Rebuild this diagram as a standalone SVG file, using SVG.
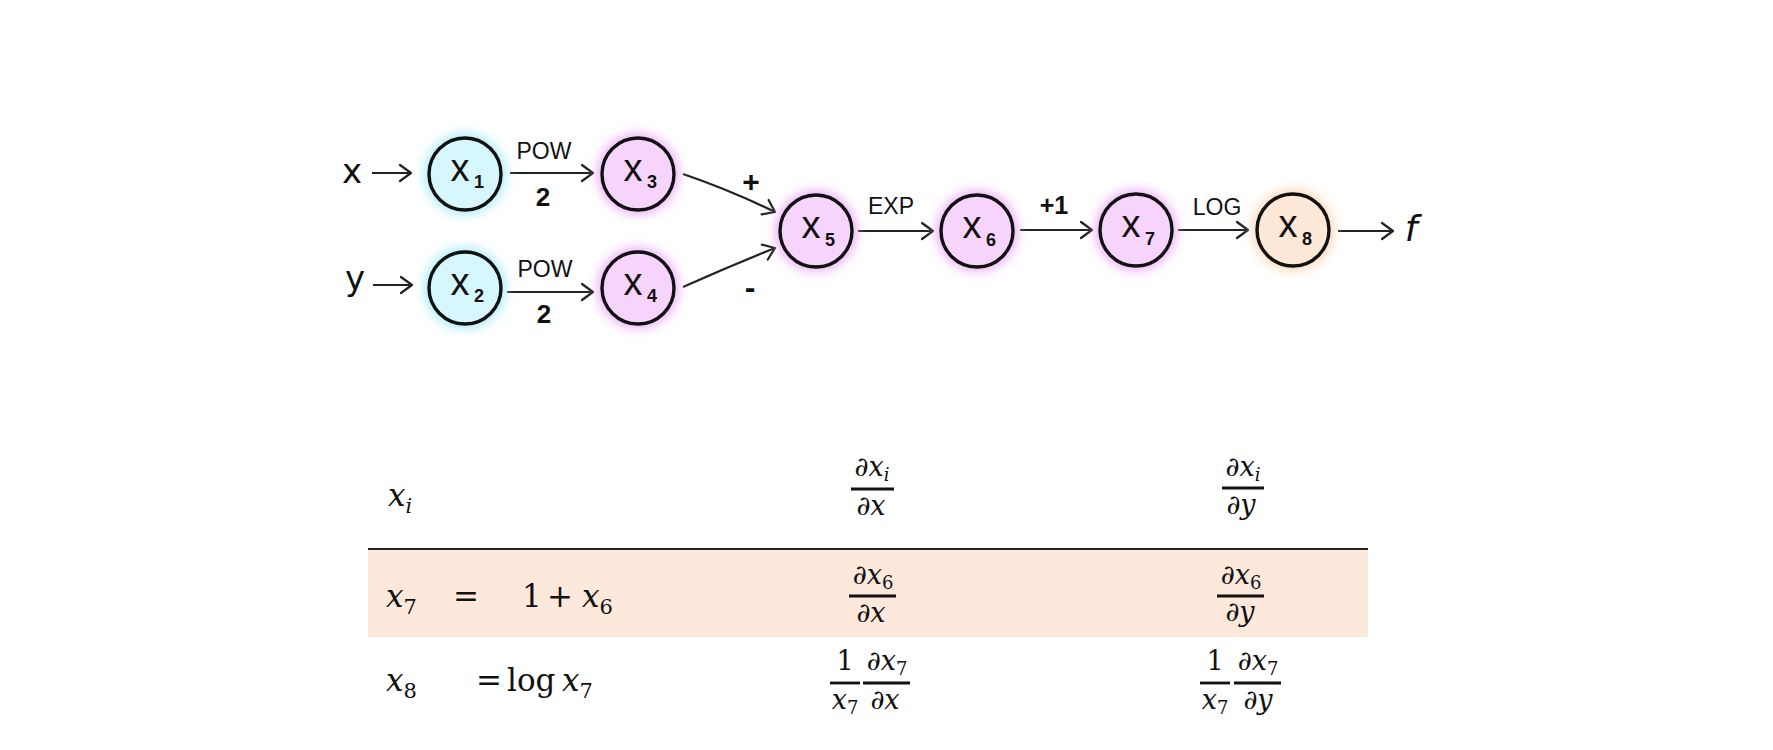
<svg xmlns="http://www.w3.org/2000/svg" width="1773" height="750" viewBox="0 0 1773 750">
<defs>
<style>
.node{stroke:#111;stroke-width:3.4}
.cyan{fill:#d5f7fd}
.pink{fill:#f6d4fb}
.peach{fill:#fde7d6}
.gcyan{fill:#9fe9f7}
.gpink{fill:#eaa6f6}
.gpeach{fill:#fbd1ae}
.nx{font-family:"Liberation Sans",sans-serif;font-size:38px;fill:#111;text-anchor:middle}
.ns{font-family:"Liberation Sans",sans-serif;font-size:18px;font-weight:bold;fill:#111;text-anchor:middle}
.lbl{font-family:"Liberation Sans",sans-serif;font-size:23px;fill:#111;text-anchor:middle}
.io{font-family:"DejaVu Sans",sans-serif;font-size:34px;fill:#111;text-anchor:middle}
.edge{fill:none;stroke:#222;stroke-width:2.2;marker-end:url(#arr)}
.m{font-family:"DejaVu Serif",serif;fill:#111}
.mi{font-style:italic}
.big{font-size:31px}
.sub{font-size:21px}
.fr{font-size:27px;text-anchor:middle}
.frs{font-size:18px}
.bar{stroke:#111;stroke-width:2.8}
</style>
<filter id="glow" x="-50%" y="-50%" width="200%" height="200%"><feGaussianBlur stdDeviation="6"/></filter>
<marker id="arr" markerUnits="userSpaceOnUse" markerWidth="20" markerHeight="20" viewBox="-14 -10 16 20" refX="0" refY="0" orient="auto">
<path d="M-11,-8 L0,0 L-11,8" fill="none" stroke="#222" stroke-width="2.2" stroke-linecap="round" stroke-linejoin="round"/>
</marker>
</defs>
<rect width="1773" height="750" fill="#fff"/>

<g id="connectors">
<path class="edge" d="M372,173 L411,173"/>
<path class="edge" d="M373,285 L412,285"/>
<path class="edge" d="M510,173 L593,173"/>
<path class="edge" d="M507,292 L593,292"/>
<path class="edge" d="M683,174 Q730,190 775,212"/>
<path class="edge" d="M683,287 Q730,266 775,248"/>
<path class="edge" d="M858,231 L933,231"/>
<path class="edge" d="M1020,230 L1092,230"/>
<path class="edge" d="M1178,230 L1248,230"/>
<path class="edge" d="M1338,231 L1393,231"/>
</g>

<g id="edge-labels">
<text class="lbl" x="544" y="159">POW</text>
<text class="lbl" x="543" y="206" style="font-size:26px;font-weight:bold">2</text>
<text class="lbl" x="545" y="277">POW</text>
<text class="lbl" x="544" y="323" style="font-size:26px;font-weight:bold">2</text>
<text class="lbl" x="751" y="192" style="font-size:30px;font-weight:bold">+</text>
<text class="lbl" x="750" y="298" style="font-size:32px;font-weight:bold">-</text>
<text class="lbl" x="891" y="214">EXP</text>
<text class="lbl" x="1054" y="214" style="font-size:25px;font-weight:bold">+1</text>
<text class="lbl" x="1217" y="215">LOG</text>
</g>

<g id="input-x"><text class="io" x="352" y="183">x</text></g>
<g id="input-y"><text class="io" x="355" y="290">y</text></g>
<g id="output-f"><text class="io" x="1411" y="241" style="font-style:italic;font-size:36px">f</text></g>

<g id="node-x1">
<circle class="gcyan" cx="465" cy="174" r="40" filter="url(#glow)"/>
<circle class="node cyan" cx="465" cy="174" r="36"/>
<text class="nx" x="460" y="181">x</text><text class="ns" x="479" y="188">1</text>
</g>
<g id="node-x2">
<circle class="gcyan" cx="465" cy="288" r="40" filter="url(#glow)"/>
<circle class="node cyan" cx="465" cy="288" r="36"/>
<text class="nx" x="460" y="295">x</text><text class="ns" x="479" y="302">2</text>
</g>
<g id="node-x3">
<circle class="gpink" cx="638" cy="174" r="40" filter="url(#glow)"/>
<circle class="node pink" cx="638" cy="174" r="36"/>
<text class="nx" x="633" y="181">x</text><text class="ns" x="652" y="188">3</text>
</g>
<g id="node-x4">
<circle class="gpink" cx="638" cy="288" r="40" filter="url(#glow)"/>
<circle class="node pink" cx="638" cy="288" r="36"/>
<text class="nx" x="633" y="295">x</text><text class="ns" x="652" y="302">4</text>
</g>
<g id="node-x5">
<circle class="gpink" cx="816" cy="231" r="40" filter="url(#glow)"/>
<circle class="node pink" cx="816" cy="231" r="36"/>
<text class="nx" x="811" y="238">x</text><text class="ns" x="830" y="246">5</text>
</g>
<g id="node-x6">
<circle class="gpink" cx="977" cy="231" r="40" filter="url(#glow)"/>
<circle class="node pink" cx="977" cy="231" r="36"/>
<text class="nx" x="972" y="238">x</text><text class="ns" x="991" y="246">6</text>
</g>
<g id="node-x7">
<circle class="gpink" cx="1136" cy="230" r="40" filter="url(#glow)"/>
<circle class="node pink" cx="1136" cy="230" r="36"/>
<text class="nx" x="1131" y="237">x</text><text class="ns" x="1150" y="245">7</text>
</g>
<g id="node-x8">
<circle class="gpeach" cx="1293" cy="230" r="40" filter="url(#glow)"/>
<circle class="node peach" cx="1293" cy="230" r="36"/>
<text class="nx" x="1288" y="237">x</text><text class="ns" x="1307" y="245">8</text>
</g>

<g id="table">
<rect x="368" y="550" width="1000" height="87" fill="#fce9dc"/>
<line x1="368" y1="549" x2="1368" y2="549" stroke="#222" stroke-width="2"/>

<text class="m big" x="388" y="506"><tspan class="mi">x</tspan><tspan class="sub mi" dy="7">i</tspan></text>
<g>
<text class="m fr" x="872" y="476">∂<tspan class="mi">x</tspan><tspan class="frs mi" dy="5">i</tspan></text>
<line class="bar" x1="851" y1="489" x2="894" y2="489"/>
<text class="m fr" x="871" y="515">∂<tspan class="mi">x</tspan></text>
</g>
<g>
<text class="m fr" x="1243" y="476">∂<tspan class="mi">x</tspan><tspan class="frs mi" dy="5">i</tspan></text>
<line class="bar" x1="1222" y1="488" x2="1264" y2="488"/>
<text class="m fr" x="1241" y="514">∂<tspan class="mi">y</tspan></text>
</g>

<text class="m big" x="386" y="607"><tspan class="mi">x</tspan><tspan class="sub" dy="7">7</tspan></text>
<text class="m big" x="453" y="607">=</text>
<text class="m big" x="522" y="607">1</text>
<text class="m big" x="547" y="607">+</text>
<text class="m big" x="582" y="607"><tspan class="mi">x</tspan><tspan class="sub" dy="7">6</tspan></text>
<g>
<text class="m fr" x="873" y="584">∂<tspan class="mi">x</tspan><tspan class="frs" dy="5">6</tspan></text>
<line class="bar" x1="849" y1="596" x2="896" y2="596"/>
<text class="m fr" x="871" y="622">∂<tspan class="mi">x</tspan></text>
</g>
<g>
<text class="m fr" x="1241" y="584">∂<tspan class="mi">x</tspan><tspan class="frs" dy="5">6</tspan></text>
<line class="bar" x1="1217" y1="596" x2="1264" y2="596"/>
<text class="m fr" x="1240" y="621">∂<tspan class="mi">y</tspan></text>
</g>

<text class="m big" x="386" y="691"><tspan class="mi">x</tspan><tspan class="sub" dy="7">8</tspan></text>
<text class="m big" x="476" y="691">=</text>
<text class="m big" x="507" y="691">log</text>
<text class="m big" x="562" y="691"><tspan class="mi">x</tspan><tspan class="sub" dy="7">7</tspan></text>
<g>
<text class="m fr" x="845" y="670">1</text>
<line class="bar" x1="830" y1="683" x2="860" y2="683"/>
<text class="m fr" x="845" y="709"><tspan class="mi">x</tspan><tspan class="frs" dy="5">7</tspan></text>
<text class="m fr" x="887" y="670">∂<tspan class="mi">x</tspan><tspan class="frs" dy="5">7</tspan></text>
<line class="bar" x1="863" y1="683" x2="910" y2="683"/>
<text class="m fr" x="885" y="709">∂<tspan class="mi">x</tspan></text>
</g>
<g>
<text class="m fr" x="1215" y="670">1</text>
<line class="bar" x1="1200" y1="683" x2="1230" y2="683"/>
<text class="m fr" x="1215" y="709"><tspan class="mi">x</tspan><tspan class="frs" dy="5">7</tspan></text>
<text class="m fr" x="1258" y="670">∂<tspan class="mi">x</tspan><tspan class="frs" dy="5">7</tspan></text>
<line class="bar" x1="1234" y1="683" x2="1281" y2="683"/>
<text class="m fr" x="1258" y="709">∂<tspan class="mi">y</tspan></text>
</g>
</g>
</svg>
